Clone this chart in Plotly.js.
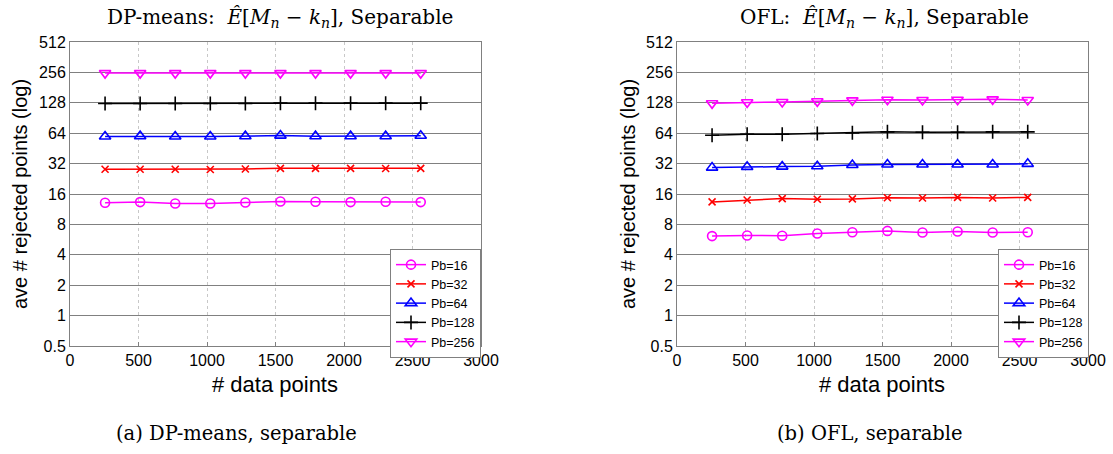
<!DOCTYPE html>
<html>
<head>
<meta charset="utf-8">
<script src="https://cdn.plot.ly/plotly-3.0.1.min.js"></script>
<style>html,body{margin:0;padding:0;background:#fff;}#chart{width:1113px;height:454px;}</style>
</head>
<body>
<div id="chart"></div>
<script>
// ---- data ----
const nPoints = [256, 512, 768, 1024, 1280, 1536, 1792, 2048, 2304, 2560];
const seriesNames = ['Pb=16', 'Pb=32', 'Pb=64', 'Pb=128', 'Pb=256'];

// DP-means, separable
const dp16  = [13.1, 13.3, 12.9, 12.9, 13.2, 13.5, 13.4, 13.3, 13.4, 13.3];
const dp32  = [28.1, 28.1, 28.1, 28.0, 28.3, 28.7, 28.7, 28.7, 28.6, 28.7];
const dp64  = [59.3, 59.8, 59.3, 59.3, 59.8, 60.6, 59.8, 59.8, 59.8, 60.4];
const dp128 = [126, 126, 126, 126, 126, 127, 127, 127, 127, 127];
const dp256 = [252, 252, 252, 252, 252, 252, 252, 252, 252, 252];

// OFL, separable
const ofl16  = [6.13, 6.22, 6.17, 6.5, 6.7, 6.9, 6.65, 6.8, 6.65, 6.7];
const ofl32  = [13.35, 13.97, 14.4, 14.2, 14.3, 14.7, 14.6, 14.8, 14.6, 14.8];
const ofl64  = [29.2, 29.7, 29.9, 30.1, 31.0, 31.3, 31.3, 31.3, 31.3, 31.8];
const ofl128 = [61.1, 62.5, 62.5, 63.5, 64.5, 66.0, 65.5, 65.5, 66.0, 66.0];
const ofl256 = [126.5, 129.4, 130.4, 132.4, 135.4, 137.4, 136.4, 137.4, 138.5, 136.4];

const yTickVals = [0.5, 1, 2, 4, 8, 16, 32, 64, 128, 256, 512];
const yTickText = ['0.5', '1', '2', '4', '8', '16', '32', '64', '128', '256', '512'];
const xTickVals = [0, 500, 1000, 1500, 2000, 2500, 3000];

// ---- styles ----
const colors = ['#ff00ff', '#ff0000', '#0000ff', '#000000', '#ff00ff'];
const symbols = ['circle-open', 'x-thin-open', 'triangle-up-open', 'cross-thin-open', 'triangle-down-open'];
const sizes = [9, 7, 10, 10, 10];

function makeTraces(ys, xa, ya, leg) {
  return ys.map((y, i) => ({
    x: nPoints, y: y, name: seriesNames[i], type: 'scatter', mode: 'lines+markers',
    xaxis: xa, yaxis: ya, legend: leg,
    line: {color: colors[i], width: 1.5},
    marker: {symbol: symbols[i], size: sizes[i], color: colors[i], line: {color: colors[i], width: 1.6}}
  }));
}

const traces = [].concat(
  makeTraces([dp16, dp32, dp64, dp128, dp256], 'x', 'y', 'legend'),
  makeTraces([ofl16, ofl32, ofl64, ofl128, ofl256], 'x2', 'y2', 'legend2')
);

const W = 1113, H = 454;
const sans = 'Liberation Sans, Arial, sans-serif';
const serif = 'DejaVu Serif, Liberation Serif, serif';
const tickFont = {family: sans, size: 16, color: '#000'};
function xAxis(domain, anchor) {
  return {domain: domain, anchor: anchor, range: [0, 3000], tickvals: xTickVals,
    showgrid: true, gridcolor: '#c8c8c8', griddash: 'dot', gridwidth: 1,
    showline: true, mirror: true, linecolor: '#808080', linewidth: 1,
    ticks: 'inside', ticklen: 4, tickcolor: '#808080',
    zeroline: false, tickfont: tickFont};
}
function yAxis(domain, anchor) {
  return {domain: domain, anchor: anchor, type: 'log',
    range: [Math.log10(0.5), Math.log10(512)], tickvals: yTickVals, ticktext: yTickText,
    showgrid: true, gridcolor: '#808080', gridwidth: 1,
    showline: true, mirror: true, linecolor: '#808080', linewidth: 1,
    ticks: 'inside', ticklen: 4, tickcolor: '#808080',
    zeroline: false, tickfont: tickFont};
}
const yDom = [1 - 346 / H, 1 - 42 / H];
const x1Dom = [70 / W, 481 / W];
const x2Dom = [677 / W, 1088 / W];

const legendStyle = (xpx) => ({
  x: xpx / W, y: 1 - 249 / H, xanchor: 'left', yanchor: 'top',
  bgcolor: '#ffffff', bordercolor: '#808080', borderwidth: 1,
  font: {family: sans, size: 12.5, color: '#000'},
  tracegroupgap: 0, itemwidth: 30
});

function ann(text, xpx, ypx, size, family, angle) {
  return {text: text, x: xpx / W, y: 1 - ypx / H, xref: 'paper', yref: 'paper',
    xanchor: 'center', yanchor: 'middle', showarrow: false, textangle: angle || 0,
    font: {family: family, size: size, color: '#000'}};
}

const mathPart = '<i>Ê</i>[<i>M</i><sub><i>n</i></sub>&nbsp;−&nbsp;<i>k</i><sub><i>n</i></sub>]';
const annotations = [
  ann('DP-means:&nbsp;&nbsp;' + mathPart + ', Separable', 280, 18, 20, serif),
  ann('OFL:&nbsp;&nbsp;' + mathPart + ', Separable', 884, 18, 20, serif),
  ann('ave # rejected points (log)', 20, 194, 20, sans, -90),
  ann('ave # rejected points (log)', 628, 194, 20, sans, -90),
  ann('# data points', 275, 384, 22, sans),
  ann('# data points', 882, 384, 22, sans),
  ann('(a) DP-means, separable', 236, 433, 19.5, serif),
  ann('(b) OFL, separable', 870, 433, 19.5, serif)
];

const layout = {
  width: W, height: H, margin: {l: 0, r: 0, t: 0, b: 0},
  paper_bgcolor: '#fff', plot_bgcolor: '#fff', showlegend: true,
  xaxis: xAxis(x1Dom, 'y'), yaxis: yAxis(yDom, 'x'),
  xaxis2: xAxis(x2Dom, 'y2'), yaxis2: yAxis(yDom, 'x2'),
  legend: legendStyle(390), legend2: legendStyle(998),
  annotations: annotations
};

Plotly.newPlot('chart', traces, layout, {displayModeBar: false, staticPlot: true});
</script>
</body>
</html>
